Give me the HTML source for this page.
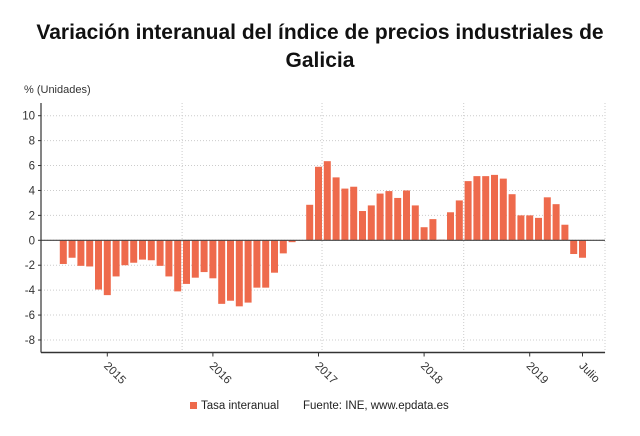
<!DOCTYPE html>
<html><head><meta charset="utf-8"><style>
body{margin:0;background:#fff;font-family:"Liberation Sans",sans-serif;}
svg text{font-family:"Liberation Sans",sans-serif;}
</style></head><body>
<svg width="640" height="431" viewBox="0 0 640 431">
<text x="320" y="39" text-anchor="middle" font-size="21" font-weight="bold" fill="#111">Variación interanual del índice de precios industriales de</text>
<text x="320" y="67" text-anchor="middle" font-size="21" font-weight="bold" fill="#111">Galicia</text>
<text x="24" y="93" font-size="11" fill="#333">% (Unidades)</text>
<g id="grid"></g><g id="bars"></g><g id="axes"></g>
<rect x="190" y="402" width="7" height="7" fill="#ee6a4c"/>
<text x="201" y="409" font-size="11.5" fill="#222">Tasa interanual</text>
<text x="303" y="409" font-size="11.5" fill="#222">Fuente: INE, www.epdata.es</text>
</svg>
<script>
const values=[-1.9,-1.4,-2.05,-2.1,-3.95,-4.4,-2.9,-2.0,-1.8,-1.55,-1.6,-2.05,-2.9,-4.1,-3.5,-3.0,-2.55,-3.05,-5.1,-4.85,-5.3,-5.0,-3.8,-3.8,-2.6,-1.05,-0.15,0.02,2.85,5.9,6.35,5.05,4.15,4.3,2.35,2.8,3.75,3.95,3.4,4.0,2.8,1.05,1.7,0.05,2.25,3.2,4.75,5.15,5.15,5.25,4.95,3.7,2.0,2.0,1.8,3.45,2.9,1.25,-1.1,-1.4];
const yTicks=[10,8,6,4,2,0,-2,-4,-6,-8];
const xLabels=["2015","2016","2017","2018","2019","Julio"];
const xLabelIdx=[5,17,29,41,53,59];
const vGridIdx=[13.5,29.4,45.5];
const NS="http://www.w3.org/2000/svg";
const x0=63.3,step=8.8,yZero=240.3,unit=12.46;
const xs=i=>x0+i*step, ys=v=>yZero-v*unit;
const L=41,R=605,B=352.5,T=103;
function mk(tag,attrs,parent){const e=document.createElementNS(NS,tag);for(const k in attrs)e.setAttribute(k,attrs[k]);parent.appendChild(e);return e;}
const g=document.getElementById('grid'),b=document.getElementById('bars'),a=document.getElementById('axes');
yTicks.forEach(t=>{
 const ln=mk('line',{x1:L,x2:R,y1:ys(t),y2:ys(t),stroke:'#ccc','stroke-dasharray':'1,2'},g);
 
 
 const tx=mk('text',{x:L-6,y:ys(t)+4,'text-anchor':'end','font-size':11.5,fill:'#333'},a);
 tx.textContent=t;
 
 
 mk('line',{x1:L-3,x2:L,y1:ys(t),y2:ys(t),stroke:'#333'},a);
});
vGridIdx.concat([0]).forEach((i,k)=>{
 const xx=k<3?xs(i):R;
 const ln=mk('line',{x1:xx,x2:xx,y1:T,y2:B,stroke:'#ccc','stroke-dasharray':'1,2'},g);
 
 
});
values.forEach((v,i)=>{
 const y1=ys(Math.max(v,0)),h=Math.max(Math.abs(v)*unit,0.5);
 const r=mk('rect',{x:xs(i)-3.5,y:y1,width:7,height:h,fill:'#ee6a4c'},b);
 
 
});
const z=mk('line',{x1:L,x2:R,y1:yZero,y2:yZero,stroke:'#444','stroke-width':1.2},a);


const ya=mk('line',{x1:L,x2:L,y1:T,y2:B,stroke:'#333','stroke-width':1.2},a);


const xa=mk('line',{x1:L,x2:R,y1:B,y2:B,stroke:'#333','stroke-width':1.5},a);


xLabels.forEach((lab,k)=>{
 const xx=xs(xLabelIdx[k]);
 mk('line',{x1:xx,x2:xx,y1:B,y2:B+4,stroke:'#333'},a);
 const tx=mk('text',{x:xx-4,y:B+14,'font-size':11.5,fill:'#333',transform:`rotate(45 ${xx-4} ${B+14})`},a);
 tx.textContent=lab;
 
 
});
</script>
</body></html>
